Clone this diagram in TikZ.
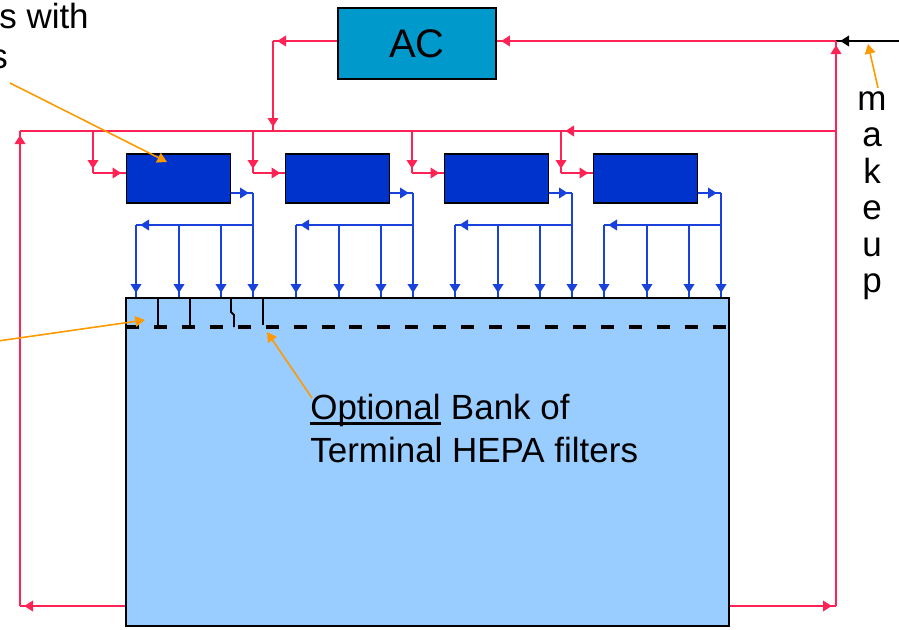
\documentclass[tikz,border=0pt]{standalone}
\usepackage{fontspec}
\setmainfont{Liberation Sans}
\usepackage{xcolor}
\usepackage{tikz}
\usetikzlibrary{positioning,arrows.meta,calc,decorations.markings}

\definecolor{ductred}{RGB}{255,35,85}
\definecolor{ductblue}{RGB}{25,65,220}
\definecolor{unitblue}{RGB}{0,51,204}
\definecolor{acblue}{RGB}{0,153,204}
\definecolor{roomblue}{RGB}{153,204,255}
\definecolor{noteorange}{RGB}{255,153,0}

\begin{document}
\begin{tikzpicture}[
  x=0.02cm, y=-0.02cm,
  font=\fontsize{19.9pt}{24pt}\selectfont,
  endtip/.style={postaction={decorate}, decoration={markings, mark=at position -2.4pt with {\arrow{Triangle[length=5pt,width=6pt]}}}},
  redduct/.style={color=ductred, line width=1.1pt, endtip},
  blueduct/.style={color=ductblue, line width=1.1pt, endtip},
  inlet/.style={color=black, line width=1.1pt, endtip},
  unit/.style={draw=black, line width=1.1pt, fill=unitblue, minimum width=2.08cm, minimum height=0.98cm, inner sep=0pt},
  acunit/.style={draw=black, line width=1.1pt, fill=acblue, minimum width=3.16cm, minimum height=1.42cm, font=\fontsize{22.7pt}{27pt}\selectfont},
  cleanroom/.style={draw=black, line width=1.1pt, fill=roomblue, minimum width=12.06cm, minimum height=6.56cm, inner sep=0pt},
  filterbank/.style={line width=2.3pt, dash pattern=on 7.4pt off 8.5pt},
  stub/.style={line width=1.1pt},
  note/.style={draw=noteorange, line width=0.9pt, -{Triangle[length=5.5pt,width=6pt]}},
  txt/.style={inner sep=0pt, anchor=base west},
]
\useasboundingbox (0,0) rectangle (899,629);
\clip (0,0) rectangle (899,629);

% ---------- room, units, AC ----------
\node[cleanroom] (room) at (427.5,462) {};
\node[acunit] (ac)  at (417,43.5)  {AC};
\node[unit]   (fu1) at (178.5,178.5) {};
\node[unit]   (fu2) at (337.5,178.5) {};
\node[unit]   (fu3) at (496.5,178.5) {};
\node[unit]   (fu4) at (645.5,178.5) {};

% ---------- supply branches and discharge headers ----------
\foreach \i/\xl in {1/126,2/286,3/445,4/594} {
  \coordinate (tap\i)  at (\xl-33,131);
  \coordinate (drop\i) at (\xl-33,173);
  \draw[redduct] (tap\i) -- (drop\i);
  \draw[redduct] (drop\i) -- (drop\i -| fu\i.west);
  \coordinate (out\i) at (\xl+127,193);
  \coordinate (hdr\i) at (\xl+127,225);
  \coordinate (hdl\i) at (\xl+10,225);
  \draw[blueduct] (out\i -| fu\i.east) -- (out\i);
  \draw[blueduct] (out\i) -- (out\i |- room.north);
  \draw[blueduct] (hdr\i) -- (hdl\i);
  \draw[blueduct] (hdl\i) -- (hdl\i |- room.north);
  \foreach \dx in {43,85} {
    \coordinate (tee) at ($(hdl\i)+(\dx,0)$);
    \draw[blueduct] (tee) -- (tee |- room.north);
  }
}

% ---------- main recirculation loop ----------
\coordinate (mkin)   at (899,41);
\coordinate (rtop)   at (836,41);
\coordinate (rmid)   at (836,131);
\coordinate (rbot)   at (836,606);
\coordinate (lbot)   at (20,606);
\coordinate (ltop)   at (20,131);
\coordinate (acdrop) at (273,41);
\coordinate (acjoin) at (273,131);
\draw[inlet] (mkin) -- (rtop);
\draw[redduct] (rtop) -- (rtop -| ac.east);
\draw[redduct] (acdrop -| ac.west) -- (acdrop);
\draw[redduct] (acdrop) -- (acjoin);
\draw[redduct] (rmid) -- (tap4);
\draw[ductred, line width=1.1pt] (tap4) -- (ltop);
\draw[redduct] (rbot -| room.east) -- (rbot);
\draw[redduct] (rbot) -- (rtop);
\draw[redduct] (lbot -| room.west) -- (lbot);
\draw[redduct] (lbot) -- (ltop);

% ---------- terminal filters ----------
\coordinate (fl) at (126,327);
\coordinate (fr) at (729,327);
\draw[filterbank] (fl) -- (fr);
\draw[stub] (158,298) -- (158,327);
\draw[stub] (190,298) -- (190,327);
\draw[stub] (231,298) -- (231,312) -- (234,315) -- (234,327);
\draw[stub] (263,298) -- (263,325);

% ---------- texts ----------
\node[txt] (fuA) at (-1,28) {s with};
\node[txt] (fuB) at (-10,68) {s};
\node[txt] (opt) at (310,419) {Optional};
\node[txt] (bank) at (opt.base east) {~Bank of};
\node[txt] (term) at (310,462) {Terminal HEPA filters};
\draw[line width=1.7pt] ($(opt.base west)+(0,4.5)$) -- ($(opt.base east)+(0,4.5)$);
\foreach \c [count=\k] in {m,a,k,e,u,p}
  \node[anchor=base, inner sep=0pt] (mk\k) at (872,{110+36.5*(\k-1)}) {\c};

% ---------- pointers ----------
\coordinate (n1a) at (10,83);   \coordinate (n1b) at (167,162);
\coordinate (n2a) at (-2,341);  \coordinate (n2b) at (145,320);
\coordinate (n3a) at (312,398); \coordinate (n3b) at (267,332);
\coordinate (n4a) at (878,88);  \coordinate (n4b) at (868,44);
\draw[note] (n1a) -- (n1b);
\draw[note] (n2a) -- (n2b);
\draw[note] (n3a) -- (n3b);
\draw[note] (n4a) -- (n4b);
\end{tikzpicture}
\end{document}
